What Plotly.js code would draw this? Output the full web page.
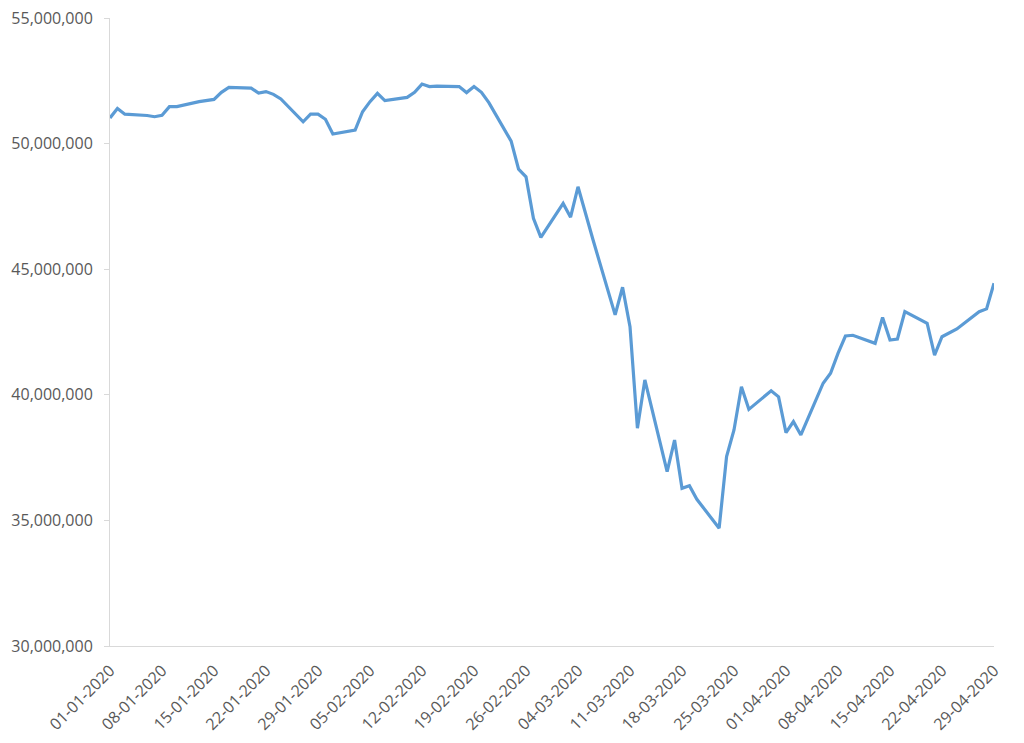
<!DOCTYPE html>
<html>
<head>
<meta charset="utf-8">
<script src="https://cdn.plot.ly/plotly-3.0.1.min.js"></script>
<style>
html,body{margin:0;padding:0;background:#fff;}
#chart{width:1024px;height:743px;}
</style>
</head>
<body>
<div id="chart"></div>
<script>
const dates = [
"2020-01-01","2020-01-02","2020-01-03","2020-01-06","2020-01-07","2020-01-08","2020-01-09","2020-01-10",
"2020-01-13","2020-01-14","2020-01-15","2020-01-16","2020-01-17",
"2020-01-20","2020-01-21","2020-01-22","2020-01-23","2020-01-24",
"2020-01-27","2020-01-28","2020-01-29","2020-01-30","2020-01-31",
"2020-02-03","2020-02-04","2020-02-05","2020-02-06","2020-02-07",
"2020-02-10","2020-02-11","2020-02-12","2020-02-13","2020-02-14",
"2020-02-17","2020-02-18","2020-02-19","2020-02-20","2020-02-21",
"2020-02-24","2020-02-25","2020-02-26","2020-02-27","2020-02-28",
"2020-03-02","2020-03-03","2020-03-04","2020-03-05","2020-03-06",
"2020-03-09","2020-03-10","2020-03-11","2020-03-12","2020-03-13",
"2020-03-16","2020-03-17","2020-03-18","2020-03-19","2020-03-20",
"2020-03-23","2020-03-24","2020-03-25","2020-03-26","2020-03-27",
"2020-03-30","2020-03-31","2020-04-01","2020-04-02","2020-04-03",
"2020-04-06","2020-04-07","2020-04-08","2020-04-09","2020-04-10",
"2020-04-13","2020-04-14","2020-04-15","2020-04-16","2020-04-17",
"2020-04-20","2020-04-21","2020-04-22","2020-04-23","2020-04-24",
"2020-04-27","2020-04-28","2020-04-29"
];
const values = [
51020000,51400000,51170000,51120000,51070000,51130000,51470000,51470000,
51670000,51720000,51760000,52040000,52240000,
52210000,52010000,52070000,51960000,51780000,
50870000,51170000,51170000,50970000,50380000,
50540000,51270000,51670000,52000000,51710000,
51840000,52040000,52370000,52270000,52290000,
52270000,52030000,52270000,52040000,51630000,
50100000,48980000,48680000,47030000,46270000,
47620000,47070000,48280000,47220000,46190000,
43180000,44280000,42710000,38670000,40590000,
36940000,38200000,36280000,36380000,35840000,
34690000,37540000,38600000,40320000,39420000,
40160000,39920000,38490000,38930000,38400000,
40460000,40860000,41650000,42340000,42370000,
42050000,43080000,42180000,42220000,43310000,
42850000,41580000,42310000,42450000,42620000,
43310000,43420000,44440000
];
const tickDates = ["2020-01-01","2020-01-08","2020-01-15","2020-01-22","2020-01-29","2020-02-05","2020-02-12","2020-02-19","2020-02-26","2020-03-04","2020-03-11","2020-03-18","2020-03-25","2020-04-01","2020-04-08","2020-04-15","2020-04-22","2020-04-29"];
const tickLabels = ["01-01-2020","08-01-2020","15-01-2020","22-01-2020","29-01-2020","05-02-2020","12-02-2020","19-02-2020","26-02-2020","04-03-2020","11-03-2020","18-03-2020","25-03-2020","01-04-2020","08-04-2020","15-04-2020","22-04-2020","29-04-2020"];

const trace = {
  x: dates, y: values, type: 'scatter', mode: 'lines',
  line: {color: '#5B9BD5', width: 3.2, shape: 'linear'},
  hoverinfo: 'x+y'
};
const layout = {
  width: 1024, height: 743,
  margin: {l: 110, r: 30, t: 18, b: 97},
  paper_bgcolor: '#fff', plot_bgcolor: '#fff',
  showlegend: false,
  font: {family: '"Open Sans", sans-serif', size: 16, color: '#595959'},
  xaxis: {
    type: 'date', range: ['2020-01-01', '2020-04-29'],
    tickmode: 'array', tickvals: tickDates, ticktext: tickLabels,
    tickangle: -45, showgrid: false, zeroline: false,
    showline: true, linecolor: '#d9d9d9', linewidth: 1,
    ticks: '', ticklabelstandoff: 8,
    tickfont: {size: 16, color: '#595959'}
  },
  yaxis: {
    range: [30000000, 55000000], dtick: 5000000, tick0: 0,
    tickformat: ',d', showgrid: false, zeroline: false,
    showline: true, linecolor: '#d9d9d9', linewidth: 1,
    ticks: 'outside', ticklen: 5, tickcolor: '#d9d9d9',
    ticklabelstandoff: 8,
    tickfont: {size: 16, color: '#595959'}
  }
};
Plotly.newPlot('chart', [trace], layout, {displayModeBar: false, staticPlot: true});
</script>
</body>
</html>
